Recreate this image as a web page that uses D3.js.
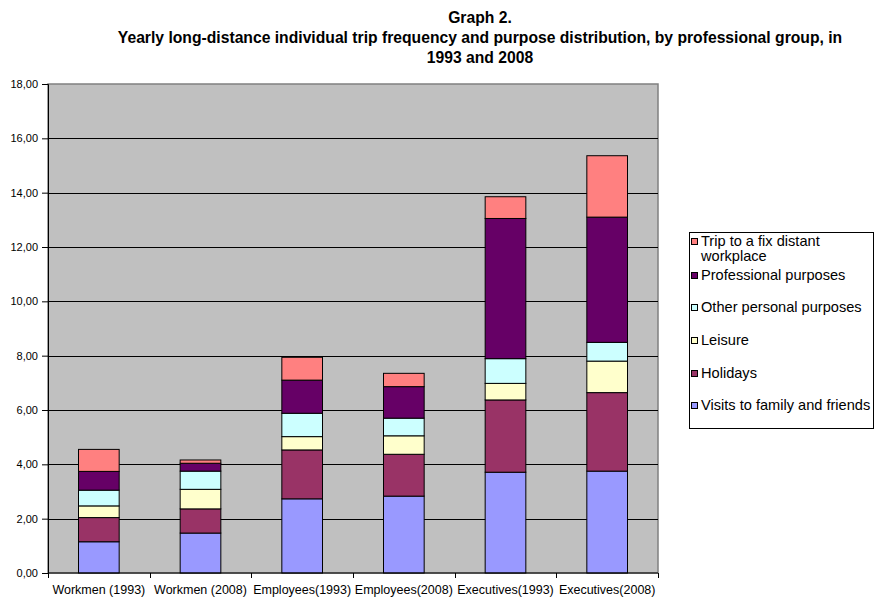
<!DOCTYPE html>
<html>
<head>
<meta charset="utf-8">
<script src="https://cdn.jsdelivr.net/npm/d3@7"></script>
<style>
  html, body { margin: 0; padding: 0; background: #fff; }
  svg { display: block; font-family: "Liberation Sans", Arial, sans-serif; }
</style>
</head>
<body>
<svg id="chart" width="875" height="597"></svg>
<script>
// Professional groups shown along the x axis
const categories = ["Workmen (1993)", "Workmen (2008)", "Employees(1993)", "Employees(2008)", "Executives(1993)", "Executives(2008)"];

// Trips per person and year, by purpose (stacked bottom to top)
const visits       = [1.15, 1.47, 2.73, 2.83, 3.71, 3.75];
const holidays     = [0.89, 0.89, 1.80, 1.54, 2.66, 2.89];
const leisure      = [0.43, 0.72, 0.49, 0.68, 0.61, 1.16];
const otherPersonal= [0.58, 0.67, 0.86, 0.65, 0.91, 0.69];
const professional = [0.69, 0.29, 1.22, 1.16, 5.16, 4.61];
const workplace    = [0.81, 0.12, 0.84, 0.49, 0.80, 2.26];

const seriesNames = ["Visits to family and friends", "Holidays", "Leisure", "Other personal purposes", "Professional purposes", "Trip to a fix distant workplace"];
const seriesValues = [visits, holidays, leisure, otherPersonal, professional, workplace];
const seriesColors = ["#9999ff", "#993366", "#ffffcc", "#ccffff", "#660066", "#ff8080"];

const yTicks = [0, 2, 4, 6, 8, 10, 12, 14, 16, 18];

const titleLines = ["Graph 2.", "Yearly long-distance individual trip frequency and purpose distribution, by professional group, in", "1993 and 2008"];

// Build rows for d3.stack
const keys = seriesNames;
const rows = categories.map((c, i) => {
  const r = { category: c };
  keys.forEach((k, j) => { r[k] = seriesValues[j][i]; });
  return r;
});
const stacked = d3.stack().keys(keys)(rows);

const svg = d3.select("#chart");
const plot = { left: 48, right: 658, top: 84, bottom: 573 };

const x = d3.scaleBand().domain(categories).range([plot.left, plot.right]).paddingInner(0.6).paddingOuter(0.3);
const y = d3.scaleLinear().domain([0, 18]).range([plot.bottom, plot.top]);
const color = d3.scaleOrdinal().domain(keys).range(seriesColors);

// Plot background
svg.append("rect")
  .attr("x", plot.left).attr("y", plot.top)
  .attr("width", plot.right - plot.left).attr("height", plot.bottom - plot.top)
  .attr("fill", "#c0c0c0").attr("stroke", "#808080").attr("stroke-width", 1.5);

// Horizontal gridlines
svg.append("g").selectAll("line")
  .data(yTicks.filter(t => t > 0 && t < 18))
  .join("line")
  .attr("x1", plot.left).attr("x2", plot.right)
  .attr("y1", d => Math.round(y(d)) + 0.5).attr("y2", d => Math.round(y(d)) + 0.5)
  .attr("stroke", "#000").attr("stroke-width", 1);

// Stacked bars
svg.append("g").selectAll("g")
  .data(stacked)
  .join("g")
  .attr("fill", d => color(d.key))
  .selectAll("rect")
  .data(d => d)
  .join("rect")
  .attr("x", d => x(d.data.category))
  .attr("width", x.bandwidth())
  .attr("y", d => y(d[1]))
  .attr("height", d => y(d[0]) - y(d[1]))
  .attr("stroke", "#000").attr("stroke-width", 1);

// Y axis
const yAxis = d3.axisLeft(y).tickValues(yTicks).tickSize(6).tickPadding(4)
  .tickFormat(d => d3.format(".2f")(d).replace(".", ","));
const gy = svg.append("g").attr("transform", `translate(${plot.left},0)`).call(yAxis);
gy.select(".domain").attr("stroke", "#000");
gy.selectAll(".tick line").attr("stroke", "#000");
gy.selectAll(".tick text").attr("font-size", 11).attr("fill", "#000").attr("font-family", "Liberation Sans, Arial, sans-serif");

// X axis: ticks between categories
const gx = svg.append("g");
gx.append("line")
  .attr("x1", plot.left).attr("x2", plot.right)
  .attr("y1", plot.bottom).attr("y2", plot.bottom)
  .attr("stroke", "#000");
const boundaries = d3.range(categories.length + 1).map(i => plot.left + i * (plot.right - plot.left) / categories.length);
gx.selectAll("line.tk").data(boundaries).join("line").attr("class", "tk")
  .attr("x1", d => Math.round(d) + 0.5).attr("x2", d => Math.round(d) + 0.5)
  .attr("y1", plot.bottom).attr("y2", plot.bottom + 5)
  .attr("stroke", "#000");
gx.selectAll("text").data(categories).join("text")
  .attr("x", d => x(d) + x.bandwidth() / 2)
  .attr("y", 594)
  .attr("text-anchor", "middle")
  .attr("font-size", 12.5)
  .text(d => d);

// Title, three centred bold lines
const titleY = [23, 43, 63];
svg.append("g").selectAll("text").data(titleLines).join("text")
  .attr("x", 480).attr("y", (d, i) => titleY[i])
  .attr("text-anchor", "middle")
  .attr("font-weight", "bold").attr("font-size", 15.7)
  .text(d => d);

// Legend (top entry first)
const legend = svg.append("g");
legend.append("rect")
  .attr("x", 689.5).attr("y", 232.5).attr("width", 184).attr("height", 196)
  .attr("fill", "#fff").attr("stroke", "#000");
const legendItems = keys.slice().reverse();
const legendBase = [246, 280, 312, 345, 378, 410];
legendItems.forEach((k, i) => {
  const by = legendBase[i];
  legend.append("rect")
    .attr("x", 691.5).attr("y", by - 7.5).attr("width", 6).attr("height", 6)
    .attr("fill", color(k)).attr("stroke", "#000");
  const t = legend.append("text").attr("x", 701).attr("y", by).attr("font-size", 14.6);
  if (k === "Trip to a fix distant workplace") {
    t.append("tspan").attr("x", 701).attr("y", by).text("Trip to a fix distant");
    t.append("tspan").attr("x", 701).attr("y", by + 15).text("workplace");
  } else {
    t.text(k);
  }
});
</script>
</body>
</html>
